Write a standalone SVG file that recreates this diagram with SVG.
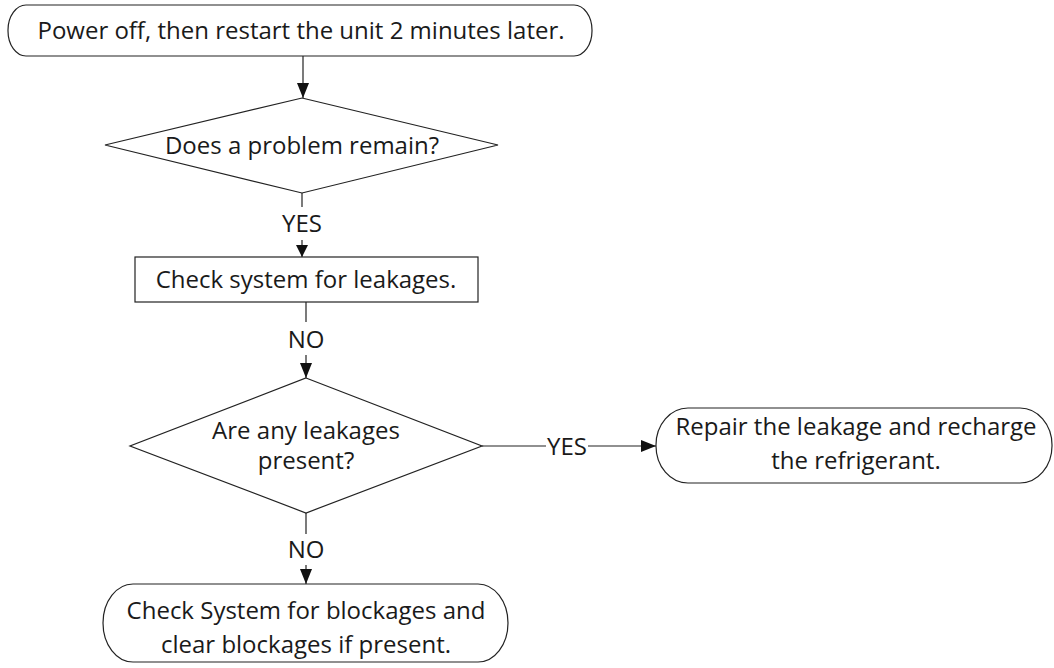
<svg xmlns="http://www.w3.org/2000/svg" width="1054" height="668" viewBox="0 0 1054 668">
<style>
.s{fill:#fff;stroke:#222;stroke-width:1.2}
.c{fill:none;stroke:#222;stroke-width:1.2}
text{font-family:"Open Sans","Noto Sans",sans-serif;font-size:24px;fill:#1a1a1a;text-anchor:middle}
</style>
<defs>
<marker id="ah" markerUnits="userSpaceOnUse" markerWidth="16" markerHeight="12" refX="15" refY="6" orient="auto"><path d="M0,0 L15,6 L0,12 Z" fill="#111"/></marker>
<marker id="ahs" markerUnits="userSpaceOnUse" markerWidth="14" markerHeight="12" refX="12" refY="6" orient="auto"><path d="M0,0 L12,6 L0,12 Z" fill="#111"/></marker>
</defs>
<g id="connectors">
<line class="c" x1="303" y1="56" x2="303" y2="98" marker-end="url(#ah)"/>
<line class="c" x1="302" y1="193" x2="302" y2="207"/>
<text x="302" y="232">YES</text>
<line class="c" x1="302" y1="240" x2="302" y2="257" marker-end="url(#ahs)"/>
<line class="c" x1="306" y1="302" x2="306" y2="322"/>
<text x="306" y="348">NO</text>
<line class="c" x1="306" y1="355" x2="306" y2="378" marker-end="url(#ah)"/>
<line class="c" x1="482" y1="446" x2="546" y2="446"/>
<text x="567" y="455">YES</text>
<line class="c" x1="588" y1="446" x2="656" y2="446" marker-end="url(#ah)"/>
<line class="c" x1="306" y1="513" x2="306" y2="534"/>
<text x="306" y="558">NO</text>
<line class="c" x1="306" y1="565" x2="306" y2="584" marker-end="url(#ah)"/>
</g>
<g id="start">
<rect class="s" x="8" y="5" width="584" height="51" rx="18" ry="25"/>
<text x="301" y="39">Power off, then restart the unit 2 minutes later.</text>
</g>
<g id="decision1">
<polygon class="s" points="302,98 498,145 302,193 105,145"/>
<text x="302" y="154">Does a problem remain?</text>
</g>
<g id="check-leak">
<rect class="s" x="135" y="257" width="343" height="45"/>
<text x="306" y="288">Check system for leakages.</text>
</g>
<g id="decision2">
<polygon class="s" points="306,378 482,446 306,513 130,446"/>
<text x="306" y="439">Are any leakages</text>
<text x="306" y="469">present?</text>
</g>
<g id="repair">
<rect class="s" x="656" y="408" width="396" height="75" rx="32" ry="37"/>
<text x="856" y="435">Repair the leakage and recharge</text>
<text x="856" y="469">the refrigerant.</text>
</g>
<g id="check-block">
<rect class="s" x="103" y="584" width="405" height="78" rx="30" ry="39"/>
<text x="306" y="619">Check System for blockages and</text>
<text x="306" y="653">clear blockages if present.</text>
</g>
</svg>
